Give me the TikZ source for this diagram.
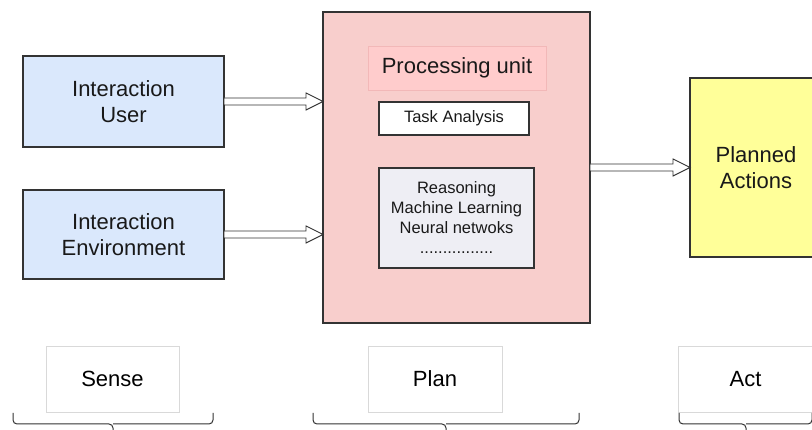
\documentclass[tikz,border=0pt]{standalone}
\usepackage{fontspec}
\setmainfont{Liberation Sans}
\usetikzlibrary{calc}

\definecolor{userblue}{HTML}{DAE8FC}
\definecolor{planpink}{HTML}{F8CECC}
\definecolor{unitpink}{HTML}{FFCCCC}
\definecolor{unitedge}{HTML}{F2B8B8}
\definecolor{methodgrey}{HTML}{EEEEF4}
\definecolor{actyellow}{HTML}{FFFF99}
\definecolor{edgegrey}{HTML}{333333}
\definecolor{labeledge}{HTML}{D9D9D9}

\tikzset{
  blk/.style={draw=edgegrey, line width=1.1pt, inner sep=0pt, outer sep=0pt,
    align=center, text=black!90},
  bigtext/.style={font=\fontsize{22}{26}\selectfont},
  smalltext/.style={font=\fontsize{16.5}{20}\selectfont},
  stagebox/.style={draw=labeledge, line width=0.8pt, fill=white, inner sep=0pt,
    outer sep=0pt, minimum height=66pt, bigtext},
  % hollow block arrow: two-line shaft and an open triangular head
  fatarrow/.style={draw=edgegrey, fill=white, line width=0.9pt, line join=miter,
    to path={let \p1=(\tikztostart), \p2=(\tikztotarget) in
      (\x1,\y1+3.5pt) -- (\x2-17pt,\y1+3.5pt) -- (\x2-17pt,\y1+8.5pt)
      -- (\x2,\y1) -- (\x2-17pt,\y1-8.5pt) -- (\x2-17pt,\y1-3.5pt)
      -- (\x1,\y1-3.5pt) -- cycle}},
  stagebrace/.style={draw=edgegrey, line width=1pt, rounded corners=4pt}
}

\begin{document}
\begin{tikzpicture}[x=1pt, y=-1pt]
  \clip (0,0) rectangle (812,430);
  \fill[white] (0,0) rectangle (812,430);

  % sensing inputs
  \node[blk, bigtext, fill=userblue, minimum width=201pt, minimum height=91pt]
    (user) at (123.5,101.5) {Interaction\\User};
  \node[blk, bigtext, fill=userblue, minimum width=201pt, minimum height=89pt]
    (env) at (123.5,234.5) {Interaction\\Environment};

  % planning block
  \node[blk, fill=planpink, minimum width=267pt, minimum height=311pt]
    (proc) at (456.5,167.5) {};
  \node[draw=unitedge, line width=0.8pt, fill=unitpink, inner sep=0pt,
    minimum width=178pt, minimum height=44pt, font=\fontsize{22}{26}\selectfont,
    text=black!90] (unit) at (457,68) {Processing unit};
  \node[blk, smalltext, fill=white, minimum width=150pt, minimum height=33pt]
    (task) at (454,118.5) {Task Analysis};
  \node[blk, smalltext, fill=methodgrey, minimum width=155pt, minimum height=100pt]
    (methods) at (456.5,218) {Reasoning\\Machine Learning\\Neural netwoks\\................};

  % action block
  \node[blk, bigtext, fill=actyellow, minimum width=132pt, minimum height=179pt]
    (actions) at (756,167.5) {Planned\\Actions};

  % flow arrows
  \path[fatarrow] (user.east) to (proc.west |- user.east);
  \path[fatarrow] (env.east) to (proc.west |- env.east);
  \path[fatarrow] (proc.east) to (actions.west);

  % stage labels
  \node[stagebox, minimum width=133pt] (sense) at (112.5,379) {Sense};
  \node[stagebox, minimum width=134pt] (plan) at (435,379) {Plan};
  \node[stagebox, minimum width=135pt] (act) at (745.5,379) {Act};

  % braces under the stage labels
  \draw[stagebrace] (13,413) -- (13,424) -- (113,424) -- (113,436);
  \draw[stagebrace] (213,413) -- (213,424) -- (113,424);
  \draw[stagebrace] (313,413) -- (313,424) -- (446,424) -- (446,436);
  \draw[stagebrace] (579,413) -- (579,424) -- (446,424);
  \draw[stagebrace] (679,413) -- (679,424) -- (746,424) -- (746,436);
  \draw[stagebrace] (812,413) -- (812,424) -- (746,424);
\end{tikzpicture}
\end{document}
